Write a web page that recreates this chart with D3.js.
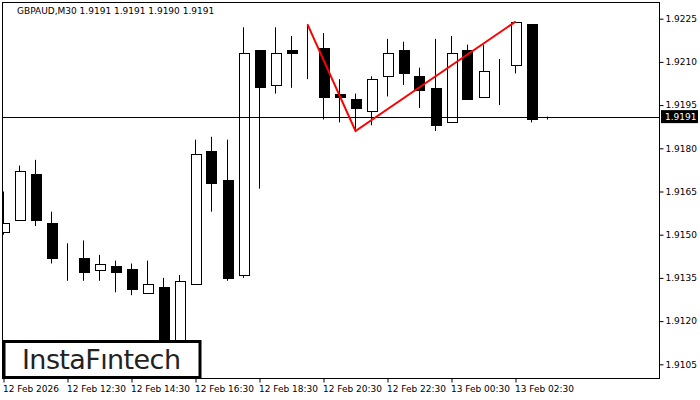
<!DOCTYPE html>
<html><head><meta charset="utf-8">
<script src="https://cdn.jsdelivr.net/npm/d3@7"></script>
<style>body{margin:0;background:#fff}svg{display:block}text{font-family:"DejaVu Sans",sans-serif}</style>
</head><body><svg id="c" width="700" height="400"></svg>
<script>
const opens  =[1.9151,1.9155,1.9171,1.9154,1.9141,1.9142,1.9138,1.9139,1.9138,1.9130,1.9132,1.9110,1.9133,1.9179,1.9169,1.9136,1.9214,1.9202,1.9214,1.9214,1.9215,1.9199,1.9197,1.9193,1.9205,1.9214,1.9205,1.9201,1.9189,1.9214,1.9198,1.9208,1.9209,1.9223,1.9191];
const highs  =[1.9165,1.9174,1.9176,1.9158,1.9147,1.9148,1.9143,1.9141,1.9140,1.9141,1.9135,1.9136,1.9183,1.9184,1.9183,1.9222,1.9214,1.9222,1.9219,1.9223,1.9220,1.9204,1.9199,1.9205,1.9218,1.9217,1.9208,1.9218,1.9219,1.9216,1.9216,1.9211,1.9224,1.9223,1.9191];
const lows   =[1.9150,1.9155,1.9153,1.9140,1.9134,1.9134,1.9134,1.9130,1.9129,1.9130,1.9105,1.9106,1.9133,1.9158,1.9134,1.9135,1.9166,1.9199,1.9201,1.9204,1.9190,1.9189,1.9186,1.9188,1.9198,1.9202,1.9194,1.9186,1.9189,1.9197,1.9198,1.9195,1.9206,1.9189,1.9190];
const closes =[1.9154,1.9172,1.9155,1.9142,1.9141,1.9137,1.9140,1.9137,1.9131,1.9133,1.9108,1.9134,1.9178,1.9168,1.9135,1.9213,1.9201,1.9213,1.9213,1.9214,1.9198,1.9198,1.9194,1.9204,1.9213,1.9206,1.9200,1.9188,1.9213,1.9197,1.9207,1.9208,1.9224,1.9190,1.9191];
const patternIdx=[19,22,32];
const patternPrice=[1.9223,1.9186,1.9224];
const yTicks=[1.9105,1.9120,1.9135,1.9150,1.9165,1.9180,1.9195,1.9210,1.9225];
const xTickIdx=[0,4,8,12,16,20,24,28,32];
const xTickLabels=["12 Feb 2026","12 Feb 12:30","12 Feb 14:30","12 Feb 16:30","12 Feb 18:30","12 Feb 20:30","12 Feb 22:30","13 Feb 00:30","13 Feb 02:30"];
const current=1.9191;

const svg=d3.select("#c");
const x=d3.scaleLinear().domain([0,34]).range([3.5,547.5]);
const y=d3.scaleLinear().domain([1.9105,1.9225]).range([364.3,18.7]);
const L=2.5,R=659.5,T=2.5,B=378.5;
const FS=9;
const plot=svg.append("g");
svg.append("defs").append("clipPath").attr("id","cl").append("rect").attr("x",L).attr("y",T).attr("width",R-L).attr("height",B-T);
const g=plot.append("g").attr("clip-path","url(#cl)");
const idx=d3.range(opens.length);
g.selectAll(".w").data(idx).join("line").attr("x1",i=>x(i)).attr("x2",i=>x(i))
 .attr("y1",i=>y(highs[i])).attr("y2",i=>y(lows[i])).attr("stroke","#000").attr("stroke-width",1);
g.selectAll(".b").data(idx).join("rect")
 .attr("x",i=>Math.round(x(i))-5+0.5).attr("width",10)
 .attr("y",i=>Math.round(y(Math.max(opens[i],closes[i])))+0.5)
 .attr("height",i=>Math.max(0,Math.round(Math.abs(y(opens[i])-y(closes[i])))))
 .attr("fill",i=>closes[i]<opens[i]?"#000":"#fff").attr("stroke","#000");
g.append("line").attr("x1",L).attr("x2",R).attr("y1",Math.round(y(current))+0.5).attr("y2",Math.round(y(current))+0.5).attr("stroke","#000");
g.append("path").attr("d",d3.line().x(d=>x(d[0])).y(d=>y(d[1]))(patternIdx.map((d,k)=>[d,patternPrice[k]])))
 .attr("fill","none").attr("stroke","#ff0000").attr("stroke-width",2);
svg.append("rect").attr("x",L).attr("y",T).attr("width",R-L).attr("height",B-T).attr("fill","none").attr("stroke","#000");
const ya=svg.append("g").attr("transform",`translate(${R},0)`).call(d3.axisRight(y).tickValues(yTicks).tickSize(4).tickFormat(d3.format(".4f")));
ya.select(".domain").remove();
ya.selectAll("text").attr("font-size",FS).attr("font-family","DejaVu Sans").attr("fill","#000").attr("x",6);
ya.selectAll("line").attr("stroke","#000");
const cy=y(current);
svg.append("rect").attr("x",661).attr("y",cy-6.5).attr("width",37).attr("height",13).attr("fill","#000");
svg.append("text").attr("x",665).attr("y",cy+3.5).attr("fill","#fff").attr("font-size",FS).text(d3.format(".4f")(current));
const xa=svg.append("g").attr("transform",`translate(0,${B})`).call(d3.axisBottom(x).tickValues(xTickIdx).tickSize(4).tickFormat((d,k)=>xTickLabels[k]));
xa.select(".domain").remove();
xa.selectAll("line").attr("stroke","#000");
xa.selectAll("text").attr("font-size",FS).attr("fill","#000").attr("text-anchor","start").attr("dx",-1).attr("y",7);
svg.append("text").attr("x",17).attr("y",14).attr("font-size",FS).attr("fill","#000").text("GBPAUD,M30  1.9191 1.9191 1.9190 1.9191");
svg.append("rect").attr("x",4).attr("y",341.5).attr("width",196).attr("height",36).attr("fill","#fff").attr("stroke","#000").attr("stroke-width",3);
svg.append("text").attr("x",22).attr("y",369).attr("font-size",27).attr("font-family","Open Sans, DejaVu Sans").attr("fill","#222").attr("textLength",159).text("InstaFıntech");
</script></body></html>
